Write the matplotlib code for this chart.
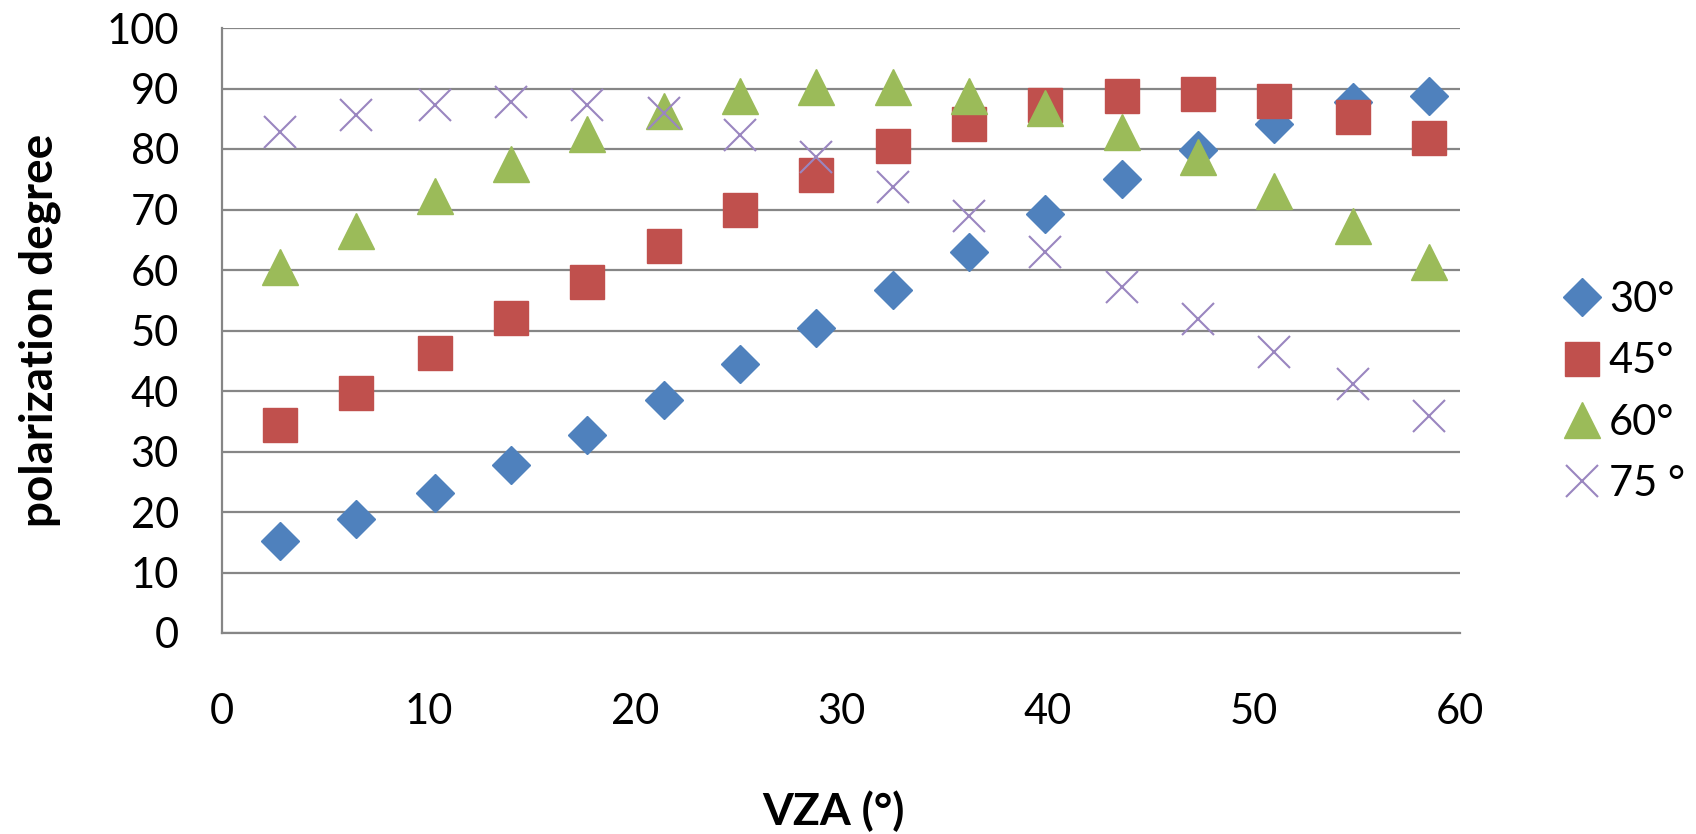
import matplotlib
matplotlib.use("Agg")
import matplotlib.pyplot as plt

plt.rcParams['font.family'] = ['Lato', 'DejaVu Sans']

# viewing zenith angles (deg)
vza = [2.8, 6.5, 10.3, 14.0, 17.7, 21.4, 25.1, 28.8,
       32.5, 36.2, 39.9, 43.6, 47.3, 51.0, 54.8, 58.5]

# polarization degree for each solar zenith angle
pol_30 = [15.2, 18.8, 23.1, 27.7, 32.7, 38.5, 44.4, 50.4,
          56.7, 63.0, 69.2, 75.0, 79.8, 84.1, 87.7, 88.7]
pol_45 = [34.3, 39.7, 46.2, 52.1, 58.0, 63.9, 69.9, 75.7,
          80.5, 84.1, 87.3, 88.7, 89.1, 88.0, 85.3, 81.8]
pol_60 = [60.5, 66.4, 72.3, 77.6, 82.5, 86.2, 88.7, 90.3,
          90.3, 88.7, 86.8, 82.8, 78.7, 73.0, 67.3, 61.4]
pol_75 = [82.8, 85.7, 87.3, 87.7, 87.3, 86.0, 82.3, 78.7,
          73.7, 68.9, 63.0, 57.2, 51.9, 46.5, 41.1, 35.8]

W, H = 1696, 834
fig = plt.figure(figsize=(W / 100, H / 100), dpi=100)
ax = fig.add_axes([222 / W, 1 - 633 / H, (1460 - 222) / W, (633 - 28) / H])

grey = "#868686"
ax.plot(vza, pol_30, linestyle="none", marker="D", ms=19,
        color="#4F81BD", mec="#4F81BD", label="30°")
ax.plot(vza, pol_45, linestyle="none", marker="s", ms=25,
        color="#C0504D", mec="#C0504D", label="45°")
ax.plot(vza, pol_60, linestyle="none", marker="^", ms=26,
        color="#9BBB59", mec="#9BBB59", label="60°")
ax.plot(vza, pol_75, linestyle="none", marker="x", ms=23, mew=1.5,
        color="#9A86C0", label="75 °")

ax.set_xlim(0, 60)
ax.set_ylim(0, 100)
ax.set_xticks(range(0, 61, 10))
ax.set_yticks(range(0, 101, 10))
ax.grid(axis="y", color=grey, linewidth=1.6)
ax.set_axisbelow(True)

for side in ("top", "right"):
    ax.spines[side].set_visible(False)
for side in ("left", "bottom"):
    ax.spines[side].set_color(grey)
    ax.spines[side].set_linewidth(1.6)

ax.tick_params(axis="both", length=0, labelsize=30, colors="black")
ax.tick_params(axis="y", pad=31)
ax.tick_params(axis="x", pad=43)

ax.set_xlabel("VZA (°)", fontsize=32, fontweight="bold")
ax.set_ylabel("polarization degree", fontsize=33, fontweight="bold")
ax.xaxis.set_label_coords((833 - 222) / 1238, (633 - 811) / 605)
ax.xaxis.label.set_va("center")
ax.yaxis.set_label_coords((40 - 222) / 1238, 0.5)
ax.yaxis.label.set_va("center")

ax.legend(loc="center left", bbox_to_anchor=(1561 / W, 1 - 392 / H),
          bbox_transform=fig.transFigure, frameon=False, fontsize=30,
          handlelength=1.0, handletextpad=0.15, labelspacing=0.56,
          borderpad=0, borderaxespad=0, markerscale=1.0)

fig.savefig("out.png", dpi=100)
